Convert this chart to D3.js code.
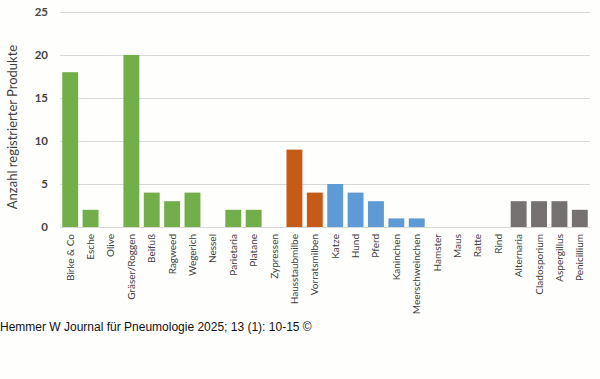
<!DOCTYPE html>
<html><head><meta charset="utf-8">
<script src="https://cdn.jsdelivr.net/npm/d3@7"></script>
<style>body{margin:0;background:#fefefc;}svg{display:block;}</style>
</head><body>
<script>
const categories = ["Birke & Co","Esche","Olive","Gräser/Roggen","Beifuß","Ragweed","Wegerich","Nessel","Parietaria","Platane","Zypressen","Hausstaubmilbe","Vorratsmilben","Katze","Hund","Pferd","Kaninchen","Meerschweinchen","Hamster","Maus","Ratte","Rind","Alternaria","Cladosporium","Aspergillus","Penicillium"];
const values = [18,2,0,20,4,3,4,0,2,2,0,9,4,5,4,3,1,1,0,0,0,0,3,3,3,2];
const groups = ["pollen","pollen","pollen","pollen","pollen","pollen","pollen","pollen","pollen","pollen","pollen","mites","mites","animals","animals","animals","animals","animals","animals","animals","animals","animals","molds","molds","molds","molds"];
const groupColors = {pollen:"#72ae4a", mites:"#c65a17", animals:"#5e9bd6", molds:"#767171"};
const yTicks = [0,5,10,15,20,25];

const W=600,H=379;
const svg=d3.select("body").append("svg").attr("width",W).attr("height",H);
svg.append("rect").attr("width",W).attr("height",H).attr("fill","#fefefc");
const x=d3.scaleBand().domain(categories).range([60,590]).paddingInner(0.22).paddingOuter(0.11);
const y=d3.scaleLinear().domain([0,25]).range([227,12]);

svg.append("g").selectAll("line").data(yTicks).join("line")
  .attr("x1",60).attr("x2",590).attr("y1",d=>y(d)+0.5).attr("y2",d=>y(d)+0.5)
  .attr("stroke","#d9d9d9").attr("stroke-width",1);

svg.append("g").selectAll("text").data(yTicks).join("text")
  .attr("x",48).attr("y",d=>y(d)).attr("dy","0.35em").attr("text-anchor","end")
  .attr("font-family","Lato, 'Open Sans', sans-serif").attr("font-weight","bold").attr("font-size",11.5).attr("fill","#444")
  .text(d=>d);

svg.append("g").selectAll("rect").data(categories).join("rect")
  .attr("x",d=>x(d)).attr("width",x.bandwidth())
  .attr("y",(d,i)=>y(values[i])).attr("height",(d,i)=>y(0)-y(values[i]))
  .attr("fill",(d,i)=>groupColors[groups[i]]);

svg.append("line").attr("x1",60).attr("x2",590).attr("y1",y(0)+0.5).attr("y2",y(0)+0.5).attr("stroke","#d9d9d9");

svg.append("g").selectAll("text").data(categories).join("text")
  .attr("transform",d=>`translate(${x(d)+x.bandwidth()/2+3.5},234) rotate(-90)`)
  .attr("text-anchor","end")
  .attr("font-family","Lato, 'Open Sans', sans-serif").attr("font-size",10).attr("fill","#404040")
  .text(d=>d);

svg.append("text").attr("transform","translate(17,127) rotate(-90)").attr("text-anchor","middle")
  .attr("font-family","Lato, 'Open Sans', sans-serif").attr("font-size",13).attr("fill","#404040")
  .text("Anzahl registrierter Produkte");

svg.append("text").attr("x",0).attr("y",331)
  .attr("font-family","'Liberation Sans', Arial, sans-serif").attr("font-size",12).attr("fill","#111")
  .text("Hemmer W Journal für Pneumologie 2025; 13 (1): 10-15 ©");
</script>
</body></html>
